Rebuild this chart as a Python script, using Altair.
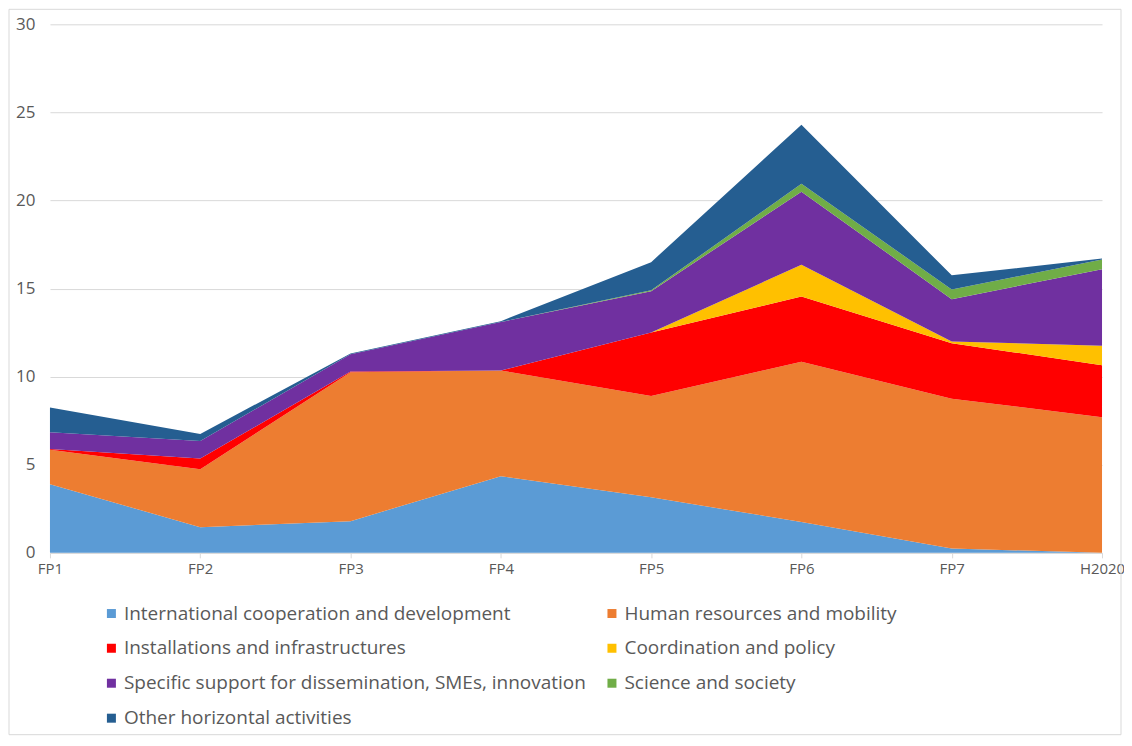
import altair as alt
import pandas as pd

periods = ["FP1", "FP2", "FP3", "FP4", "FP5", "FP6", "FP7", "H2020"]
series_names = [
    "International cooperation and development",
    "Human resources and mobility",
    "Installations and infrastructures",
    "Coordination and policy",
    "Specific support for dissemination, SMEs, innovation",
    "Science and society",
    "Other horizontal activities",
]
intl = [3.9, 1.45, 1.8, 4.35, 3.15, 1.75, 0.25, 0.0]
human = [1.95, 3.3, 8.45, 6.0, 5.75, 9.1, 8.5, 7.7]
install = [0.05, 0.6, 0.05, 0.0, 3.6, 3.7, 3.15, 2.95]
coord = [0.0, 0.0, 0.0, 0.0, 0.0, 1.8, 0.1, 1.1]
specific = [0.95, 1.0, 0.97, 2.75, 2.35, 4.15, 2.4, 4.35]
science = [0.0, 0.0, 0.0, 0.0, 0.05, 0.45, 0.55, 0.55]
other = [1.4, 0.4, 0.05, 0.05, 1.6, 3.35, 0.8, 0.05]
colors = ["#5B9BD5", "#ED7D31", "#FF0000", "#FFC000", "#7030A0", "#70AD47", "#255E91"]

all_series = [intl, human, install, coord, specific, science, other]
rows = []
for i, (name, vals) in enumerate(zip(series_names, all_series)):
    for p, v in zip(periods, vals):
        rows.append({"period": p, "series": name, "value": v, "idx": i})
df = pd.DataFrame(rows)

# legend is filled column by column: reorder so rows read pairwise as in the reference
legend_order = [0, 2, 4, 6, 1, 3, 5]
legend_domain = [series_names[i] for i in legend_order]
legend_range = [colors[i] for i in legend_order]

FONT = "Open Sans, Segoe UI, Noto Sans, sans-serif"
GRAY = "#595959"
LIGHT = "#D9D9D9"

area = alt.Chart(df).mark_area(interpolate="linear").encode(
    x=alt.X("period:O", sort=periods,
            scale=alt.Scale(type="point", padding=0),
            axis=alt.Axis(title=None, labelAngle=0, labelFontSize=15, labelColor=GRAY,
                          labelFont=FONT, domainColor=LIGHT, tickColor=LIGHT, tickSize=5,
                          labelPadding=4, grid=False)),
    y=alt.Y("value:Q", stack="zero",
            scale=alt.Scale(domain=[0, 30], nice=False),
            axis=alt.Axis(title=None, values=[0, 5, 10, 15, 20, 25, 30], labelFontSize=17,
                          labelColor=GRAY, labelFont=FONT, domain=False, ticks=False,
                          labelPadding=15, gridColor=LIGHT, gridWidth=1)),
    color=alt.Color("series:N",
                    scale=alt.Scale(domain=legend_domain, range=legend_range),
                    legend=alt.Legend(title=None, orient="none", legendX=52, legendY=580,
                                      columns=2, symbolType="square", symbolSize=81,
                                      symbolStrokeWidth=0, labelFontSize=19, labelColor=GRAY,
                                      labelFont=FONT, labelOffset=3, rowPadding=15,
                                      columnPadding=16, labelLimit=700)),
    order=alt.Order("idx:Q", sort="ascending"),
)

border = alt.Chart(pd.DataFrame({"a": [0]})).mark_rect(
    fill=None, stroke=LIGHT, strokeWidth=1
).encode(
    x=alt.value(-41), x2=alt.value(1072), y=alt.value(-15), y2=alt.value(711)
)

chart = alt.layer(area, border).properties(
    width=1053, height=529,
    autosize=alt.AutoSizeParams(type="none"),
    padding={"left": 42, "top": 16, "right": 22, "bottom": 183},
).configure_view(stroke=None)

chart.save("out.html", embed_options={"renderer": "svg", "actions": False})
